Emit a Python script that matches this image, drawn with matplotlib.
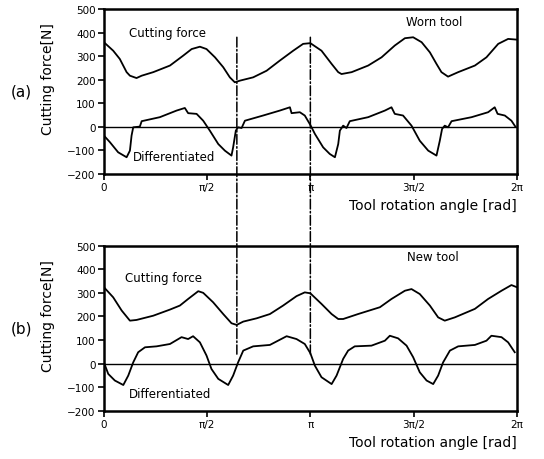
import numpy as np
import matplotlib
matplotlib.use("Agg")
import matplotlib.pyplot as plt
from matplotlib.patches import ConnectionPatch

# angles are given in units of pi (0 .. 2)
# (a) worn tool
worn_force_x = [0, 0.045, 0.077, 0.11, 0.126, 0.158, 0.183, 0.239, 0.32, 0.384, 0.425, 0.465,
                0.497, 0.538, 0.578, 0.61, 0.634, 0.659, 0.723, 0.788, 0.852, 0.917, 0.965, 1.0,
                1.054, 1.103, 1.135, 1.151, 1.2, 1.28, 1.345, 1.409, 1.458, 1.498, 1.539, 1.579,
                1.611, 1.635, 1.667, 1.716, 1.797, 1.853, 1.91, 1.958, 2.0]
worn_force_y = [359, 323, 288, 232, 217, 207, 217, 232, 260, 302, 330, 340,
                330, 295, 253, 210, 189, 196, 210, 238, 281, 323, 352, 355,
                323, 267, 232, 224, 232, 260, 295, 345, 376, 380, 359, 316,
                267, 232, 213, 232, 260, 295, 352, 373, 370]

worn_diff_x = [0, 0.029, 0.069, 0.11, 0.126, 0.134, 0.142, 0.174, 0.183, 0.271, 0.352, 0.392,
               0.408, 0.449, 0.481, 0.513, 0.554, 0.586, 0.618, 0.626, 0.639, 0.65, 0.667, 0.683,
               0.771, 0.852, 0.901, 0.909, 0.949, 0.973, 1.0,
               1.022, 1.062, 1.094, 1.119, 1.135, 1.143, 1.159, 1.175, 1.191, 1.28, 1.361, 1.393,
               1.409, 1.449, 1.49, 1.53, 1.571, 1.611, 1.627, 1.638, 1.651, 1.667, 1.684, 1.781,
               1.861, 1.893, 1.907, 1.942, 1.974, 1.993]
worn_diff_y = [-37, -65, -108, -129, -101, -37, -2, 1, 24, 41, 69, 80,
               58, 55, 26, -16, -73, -101, -122, -87, -16, -2, -5, 26,
               48, 69, 83, 58, 62, 48, 8,
               -30, -87, -115, -129, -73, -16, 5, -5, 24, 41, 69, 83,
               55, 48, 5, -59, -101, -122, -59, -9, 5, -2, 24, 41,
               62, 83, 55, 48, 26, 1]

# (b) new tool
new_force_x = [0, 0.045, 0.086, 0.126, 0.158, 0.239, 0.32, 0.368, 0.408, 0.457, 0.481, 0.529,
               0.578, 0.618, 0.643, 0.675, 0.74, 0.804, 0.868, 0.933, 0.973, 1.0,
               1.054, 1.103, 1.135, 1.159, 1.231, 1.337, 1.393, 1.458, 1.49, 1.53, 1.579,
               1.619, 1.651, 1.7, 1.797, 1.861, 1.926, 1.974, 2.0]
new_force_y = [324, 281, 225, 182, 185, 203, 229, 246, 274, 307, 300, 260,
               210, 171, 164, 178, 192, 210, 246, 286, 302, 298,
               253, 210, 189, 189, 210, 239, 274, 309, 316, 295, 246,
               196, 182, 196, 232, 274, 309, 333, 324]

new_diff_x = [0, 0.021, 0.053, 0.094, 0.118, 0.142, 0.166, 0.199, 0.255, 0.32, 0.376, 0.408,
              0.432, 0.465, 0.497, 0.521, 0.554, 0.602, 0.626, 0.65, 0.675, 0.723, 0.804, 0.885,
              0.933, 0.973, 1.0,
              1.022, 1.054, 1.103, 1.127, 1.159, 1.183, 1.215, 1.296, 1.361, 1.385, 1.425, 1.466,
              1.498, 1.53, 1.563, 1.595, 1.619, 1.643, 1.676, 1.716, 1.797, 1.853, 1.877, 1.926,
              1.958, 1.99]
new_diff_y = [5, -44, -72, -91, -51, 5, 48, 69, 73, 83, 112, 104,
              116, 90, 34, -23, -65, -91, -51, 5, 55, 73, 79, 116,
              104, 83, 44,
              -9, -58, -87, -51, 20, 55, 73, 76, 97, 118, 107, 76,
              27, -37, -72, -87, -51, 5, 55, 73, 79, 97, 118, 112,
              90, 48]

marker_lines = [0.644, 1.0]   # dash-dot guides (units of pi)

tick_pos = [0, 0.5, 1.0, 1.5, 2.0]
tick_lab = ["0", "π/2", "π", "3π/2", "2π"]
yticks = [500, 400, 300, 200, 100, 0, -100, -200]

plt.rcParams['font.family'] = ['DejaVu Sans']

fig = plt.figure(figsize=(5.44, 4.60), dpi=100)
ax_a = fig.add_axes([0.191, 0.6196, 0.759, 0.3587])
ax_b = fig.add_axes([0.191, 0.105, 0.759, 0.3587])

panels = [
    (ax_a, worn_force_x, worn_force_y, worn_diff_x, worn_diff_y, "(a)", "Worn tool"),
    (ax_b, new_force_x, new_force_y, new_diff_x, new_diff_y, "(b)", "New tool"),
]

for ax, fx, fy, dx, dy, tag, name in panels:
    ax.plot(np.array(fx) * np.pi, fy, color='black', lw=1.3)
    ax.plot(np.array(dx) * np.pi, dy, color='black', lw=1.3)
    ax.axhline(0, color='black', lw=1.0)
    ax.set_xlim(0, 2 * np.pi)
    ax.set_ylim(-200, 500)
    ax.set_xticks(np.array(tick_pos) * np.pi)
    ax.set_xticklabels(tick_lab)
    ax.set_yticks(yticks)
    ax.tick_params(direction='out', length=4, width=1.2, labelsize=7.5, pad=2)
    for s in ax.spines.values():
        s.set_linewidth(1.8)
    ax.set_ylabel("Cutting force[N]", fontsize=10)
    ax.yaxis.set_label_coords(-0.119, 0.58)
    ax.set_xlabel("Tool rotation angle [rad]", fontsize=10, ha='right', x=1.0, labelpad=4)
    ax.text(-0.20, 0.5, tag, transform=ax.transAxes, fontsize=11, ha='center', va='center')

ax_a.text(0.155, 0.86, "Cutting force", transform=ax_a.transAxes, fontsize=8.5, ha='center', va='center')
ax_b.text(0.145, 0.81, "Cutting force", transform=ax_b.transAxes, fontsize=8.5, ha='center', va='center')
ax_a.text(0.80, 0.927, "Worn tool", transform=ax_a.transAxes, fontsize=8.5, ha='center', va='center')
ax_b.text(0.797, 0.937, "New tool", transform=ax_b.transAxes, fontsize=8.5, ha='center', va='center')
ax_a.text(0.34 * np.pi, -127, "Differentiated", fontsize=8.5, ha='center', va='center')
ax_b.text(0.32 * np.pi, -125, "Differentiated", fontsize=8.5, ha='center', va='center')

# dash-dot guides spanning both panels
for m in marker_lines:
    con = ConnectionPatch(xyA=(m * np.pi, 380), coordsA=ax_a.transData,
                          xyB=(m * np.pi, 40), coordsB=ax_b.transData,
                          linestyle='-.', color='black', lw=1.1)
    fig.add_artist(con)

fig.savefig("out.png", dpi=100)
